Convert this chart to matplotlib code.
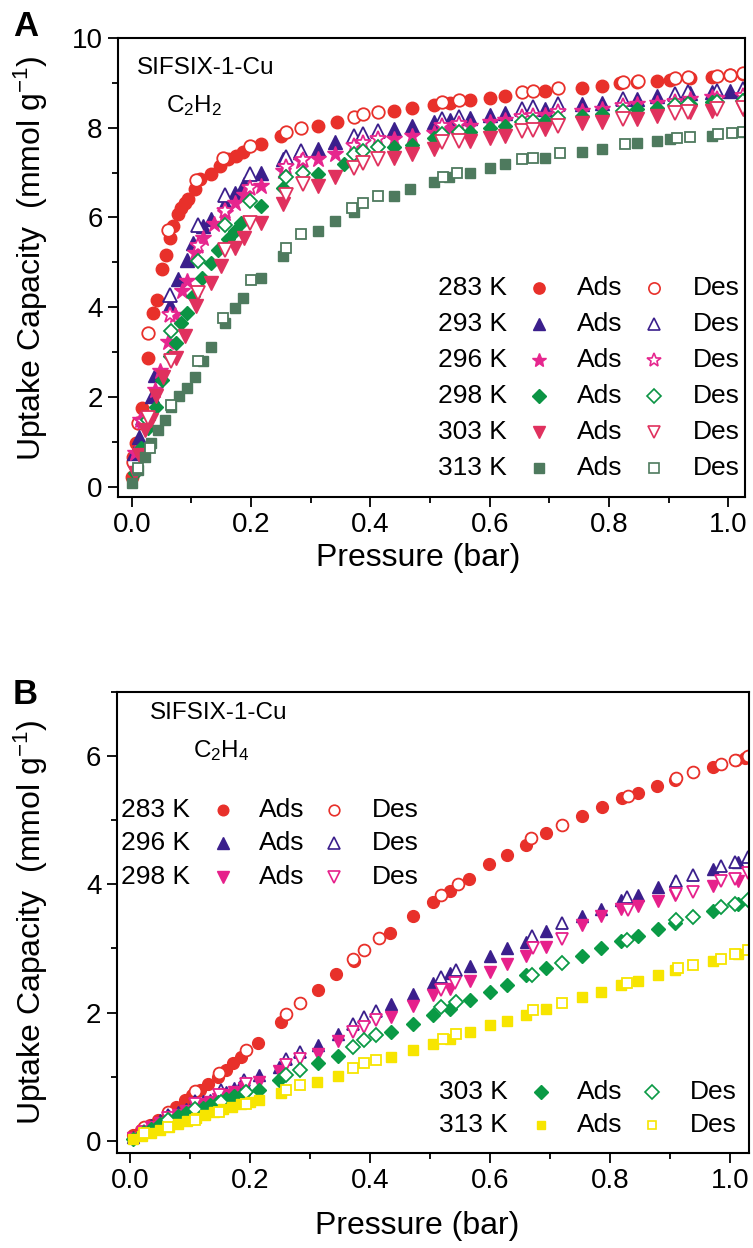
import matplotlib
matplotlib.use('Agg')
import matplotlib.pyplot as plt
from matplotlib.ticker import MultipleLocator

plt.rcParams['font.family'] = ['Liberation Sans', 'DejaVu Sans']
plt.rcParams['mathtext.default'] = 'regular'

# ---------------- panel A : C2H2 ----------------
a283_ads_p = [0.0, 0.002, 0.008, 0.017, 0.028, 0.036, 0.042, 0.05, 0.058, 0.064, 0.069, 0.078, 0.083, 0.089, 0.094,
              0.106, 0.114, 0.133, 0.148, 0.161, 0.175, 0.187, 0.217, 0.251, 0.312, 0.344, 0.439, 0.469, 0.506,
              0.534, 0.567, 0.601, 0.626, 0.693, 0.754, 0.788, 0.819, 0.847, 0.88, 0.902, 0.936, 0.972, 1.003, 1.025]
a283_ads_u = [0.22, 0.67, 0.97, 1.75, 2.87, 3.88, 4.16, 4.84, 5.17, 5.55, 5.81, 6.07, 6.22, 6.33, 6.40,
              6.63, 6.85, 6.96, 7.15, 7.30, 7.37, 7.45, 7.63, 7.82, 8.04, 8.13, 8.38, 8.43, 8.50,
              8.56, 8.61, 8.67, 8.71, 8.81, 8.88, 8.93, 8.99, 9.01, 9.04, 9.07, 9.10, 9.14, 9.17, 9.19]
a283_des_p = [0.002, 0.011, 0.028, 0.061, 0.108, 0.153, 0.198, 0.259, 0.284, 0.372, 0.388, 0.413, 0.52, 0.548,
              0.654, 0.673, 0.715, 0.824, 0.849, 0.911, 0.933, 0.981, 1.003, 1.025]
a283_des_u = [0.55, 1.42, 3.43, 5.73, 6.83, 7.32, 7.59, 7.91, 8.00, 8.23, 8.30, 8.35, 8.58, 8.61,
              8.79, 8.81, 8.88, 9.01, 9.03, 9.10, 9.12, 9.16, 9.18, 9.21]

a293_ads_p = [0.003, 0.012, 0.02, 0.034, 0.039, 0.064, 0.078, 0.092, 0.103, 0.12, 0.133, 0.156, 0.173, 0.189,
              0.217, 0.254, 0.282, 0.312, 0.341, 0.439, 0.469, 0.506, 0.534, 0.567, 0.601, 0.626, 0.693, 0.754,
              0.788, 0.847, 0.88, 0.936, 0.972, 1.003, 1.025]
a293_ads_u = [0.75, 1.10, 1.50, 2.01, 2.49, 4.04, 4.62, 5.06, 5.43, 5.81, 5.96, 6.33, 6.55, 6.74,
              7.00, 7.30, 7.45, 7.52, 7.67, 7.97, 8.03, 8.12, 8.17, 8.21, 8.28, 8.32, 8.41, 8.52,
              8.56, 8.65, 8.70, 8.77, 8.80, 8.82, 8.86]
a293_des_p = [0.019, 0.064, 0.111, 0.156, 0.198, 0.259, 0.284, 0.372, 0.388, 0.413, 0.52, 0.548, 0.654, 0.673,
              0.715, 0.824, 0.911, 0.933, 0.981, 1.025]
a293_des_u = [1.54, 4.26, 5.84, 6.51, 6.96, 7.35, 7.48, 7.82, 7.87, 7.93, 8.19, 8.24, 8.41, 8.45,
              8.52, 8.64, 8.76, 8.79, 8.82, 8.86]

a296_ads_p = [0.006, 0.014, 0.039, 0.047, 0.061, 0.073, 0.084, 0.092, 0.106, 0.12, 0.138, 0.156, 0.173, 0.189,
              0.217, 0.254, 0.284, 0.312, 0.341, 0.439, 0.469, 0.506, 0.534, 0.567, 0.601, 0.626, 0.693, 0.754,
              0.788, 0.847, 0.88, 0.936, 0.972, 1.025]
a296_ads_u = [0.74, 1.49, 2.16, 2.58, 3.22, 3.83, 4.35, 4.58, 5.20, 5.55, 5.85, 6.10, 6.33, 6.50,
              6.70, 7.03, 7.26, 7.30, 7.41, 7.74, 7.82, 7.89, 7.98, 8.03, 8.12, 8.17, 8.28, 8.38,
              8.41, 8.52, 8.56, 8.64, 8.68, 8.71]
a296_des_p = [0.019, 0.064, 0.111, 0.156, 0.198, 0.259, 0.287, 0.372, 0.388, 0.413, 0.52, 0.548, 0.654, 0.673,
              0.715, 0.824, 0.911, 0.981, 1.025]
a296_des_u = [1.45, 3.83, 5.36, 6.14, 6.66, 7.13, 7.28, 7.59, 7.65, 7.74, 8.03, 8.08, 8.23, 8.26,
              8.35, 8.49, 8.58, 8.65, 8.70]

a298_ads_p = [0.005, 0.015, 0.028, 0.041, 0.05, 0.064, 0.075, 0.083, 0.092, 0.103, 0.117, 0.133, 0.145, 0.161,
              0.173, 0.184, 0.217, 0.254, 0.312, 0.355, 0.439, 0.469, 0.506, 0.567, 0.601, 0.626, 0.693, 0.754,
              0.788, 0.847, 0.88, 0.936, 0.972, 1.025]
a298_ads_u = [0.30, 0.85, 1.30, 1.78, 2.38, 2.92, 3.20, 3.65, 3.87, 4.24, 4.65, 4.99, 5.28, 5.51,
              5.69, 5.88, 6.25, 6.66, 6.96, 7.18, 7.56, 7.61, 7.76, 7.91, 8.00, 8.03, 8.15, 8.25,
              8.30, 8.41, 8.44, 8.52, 8.58, 8.61]
a298_des_p = [0.027, 0.066, 0.111, 0.156, 0.198, 0.259, 0.287, 0.372, 0.388, 0.413, 0.52, 0.548, 0.654, 0.673,
              0.715, 0.824, 0.911, 0.933, 0.981, 1.025]
a298_des_u = [1.49, 3.46, 5.02, 5.84, 6.36, 6.89, 7.00, 7.41, 7.48, 7.56, 7.85, 7.91, 8.12, 8.15,
              8.21, 8.38, 8.50, 8.52, 8.58, 8.60]

a303_ads_p = [0.005, 0.012, 0.022, 0.033, 0.041, 0.052, 0.075, 0.089, 0.108, 0.133, 0.15, 0.173, 0.189, 0.217,
              0.254, 0.312, 0.341, 0.439, 0.469, 0.506, 0.567, 0.601, 0.626, 0.693, 0.754, 0.788, 0.847, 0.88,
              0.936, 0.972, 1.025]
a303_ads_u = [0.30, 0.70, 1.26, 1.49, 2.01, 2.45, 2.86, 3.35, 4.02, 4.54, 4.91, 5.32, 5.55, 5.88,
              6.29, 6.70, 6.89, 7.33, 7.42, 7.52, 7.71, 7.77, 7.82, 7.98, 8.10, 8.12, 8.19, 8.26,
              8.34, 8.38, 8.41]
a303_des_p = [0.027, 0.066, 0.111, 0.156, 0.198, 0.259, 0.287, 0.372, 0.388, 0.413, 0.52, 0.548, 0.654, 0.673,
              0.715, 0.824, 0.911, 0.933, 0.981, 1.025]
a303_des_u = [1.52, 2.79, 4.32, 5.28, 5.88, 6.51, 6.74, 7.11, 7.21, 7.30, 7.67, 7.71, 7.93, 7.95,
              8.04, 8.19, 8.32, 8.34, 8.41, 8.44]

a313_ads_p = [0.0, 0.011, 0.022, 0.033, 0.044, 0.055, 0.066, 0.08, 0.092, 0.106, 0.12, 0.133, 0.156, 0.173,
              0.187, 0.217, 0.254, 0.312, 0.341, 0.372, 0.439, 0.467, 0.506, 0.531, 0.567, 0.601, 0.626, 0.693,
              0.754, 0.788, 0.847, 0.88, 0.902, 0.972, 1.025]
a313_ads_u = [0.07, 0.37, 0.67, 0.97, 1.26, 1.49, 1.78, 2.01, 2.19, 2.45, 2.79, 3.12, 3.65, 3.98,
              4.21, 4.65, 5.13, 5.69, 5.92, 6.11, 6.48, 6.63, 6.79, 6.89, 7.00, 7.11, 7.18, 7.33,
              7.46, 7.53, 7.65, 7.71, 7.74, 7.82, 7.91]
a313_des_p = [0.011, 0.03, 0.066, 0.111, 0.153, 0.2, 0.259, 0.284, 0.369, 0.388, 0.413, 0.522, 0.545, 0.654,
              0.673, 0.718, 0.827, 0.914, 0.936, 0.983, 1.006, 1.025]
a313_des_u = [0.41, 0.85, 1.82, 2.79, 3.76, 4.61, 5.32, 5.62, 6.22, 6.33, 6.48, 6.91, 7.00, 7.30,
              7.33, 7.43, 7.63, 7.78, 7.80, 7.85, 7.89, 7.91]

# ---------------- panel B : C2H4 ----------------
b283_ads_p = [0.005, 0.019, 0.033, 0.047, 0.063, 0.077, 0.091, 0.104, 0.116, 0.13, 0.147, 0.16, 0.172, 0.186,
              0.213, 0.252, 0.313, 0.344, 0.374, 0.434, 0.472, 0.506, 0.533, 0.566, 0.599, 0.629, 0.661, 0.693,
              0.754, 0.787, 0.82, 0.847, 0.878, 0.908, 0.972, 1.011, 1.025]
b283_ads_u = [0.09, 0.17, 0.24, 0.32, 0.43, 0.53, 0.63, 0.72, 0.79, 0.89, 1.00, 1.10, 1.21, 1.30,
              1.53, 1.85, 2.36, 2.60, 2.81, 3.24, 3.50, 3.72, 3.89, 4.09, 4.31, 4.46, 4.62, 4.80,
              5.06, 5.20, 5.35, 5.43, 5.53, 5.63, 5.83, 5.94, 5.97]
b283_des_p = [0.024, 0.063, 0.108, 0.149, 0.194, 0.261, 0.283, 0.372, 0.391, 0.416, 0.518, 0.547, 0.669, 0.72,
              0.831, 0.911, 0.939, 0.986, 1.008, 1.03]
b283_des_u = [0.22, 0.45, 0.78, 1.06, 1.41, 1.98, 2.15, 2.83, 2.98, 3.17, 3.83, 4.01, 4.73, 4.92,
              5.38, 5.66, 5.75, 5.88, 5.94, 6.00]

b296_ads_p = [0.005, 0.02, 0.035, 0.05, 0.065, 0.08, 0.094, 0.11, 0.122, 0.133, 0.147, 0.16, 0.174, 0.19,
              0.216, 0.249, 0.313, 0.347, 0.436, 0.472, 0.506, 0.534, 0.567, 0.6, 0.628, 0.661, 0.694, 0.754,
              0.786, 0.819, 0.847, 0.88, 0.908, 0.972, 1.014]
b296_ads_u = [0.06, 0.15, 0.24, 0.32, 0.39, 0.45, 0.50, 0.58, 0.62, 0.64, 0.70, 0.76, 0.83, 0.90,
              1.02, 1.15, 1.49, 1.67, 2.13, 2.29, 2.46, 2.61, 2.73, 2.88, 3.00, 3.10, 3.28, 3.50,
              3.62, 3.75, 3.84, 3.96, 4.06, 4.24, 4.35]
b296_des_p = [0.024, 0.063, 0.108, 0.152, 0.191, 0.261, 0.283, 0.372, 0.391, 0.411, 0.519, 0.544, 0.671, 0.72,
              0.829, 0.911, 0.939, 0.986, 1.008, 1.03]
b296_des_u = [0.16, 0.40, 0.62, 0.80, 0.95, 1.27, 1.39, 1.82, 1.93, 2.03, 2.55, 2.67, 3.20, 3.39,
              3.80, 4.06, 4.15, 4.29, 4.35, 4.43]

b298_ads_p = [0.005, 0.02, 0.035, 0.05, 0.065, 0.08, 0.094, 0.11, 0.122, 0.133, 0.147, 0.16, 0.174, 0.19,
              0.216, 0.249, 0.313, 0.347, 0.436, 0.472, 0.506, 0.534, 0.567, 0.6, 0.628, 0.661, 0.694, 0.754,
              0.786, 0.819, 0.847, 0.88, 0.908, 0.972, 1.014]
b298_ads_u = [0.05, 0.13, 0.21, 0.28, 0.35, 0.41, 0.46, 0.52, 0.57, 0.61, 0.66, 0.71, 0.76, 0.82,
              0.91, 1.09, 1.36, 1.56, 1.93, 2.11, 2.28, 2.37, 2.49, 2.63, 2.76, 2.88, 3.02, 3.36,
              3.50, 3.62, 3.66, 3.74, 3.83, 3.98, 4.06]
b298_des_p = [0.024, 0.063, 0.108, 0.149, 0.194, 0.261, 0.283, 0.372, 0.391, 0.411, 0.518, 0.542, 0.672, 0.72,
              0.831, 0.911, 0.939, 0.986, 1.008, 1.03]
b298_des_u = [0.14, 0.36, 0.57, 0.71, 0.89, 1.18, 1.28, 1.70, 1.78, 1.88, 2.35, 2.46, 3.00, 3.15,
              3.60, 3.85, 3.88, 4.06, 4.09, 4.17]

b303_ads_p = [0.005, 0.02, 0.035, 0.05, 0.065, 0.08, 0.094, 0.11, 0.122, 0.133, 0.147, 0.16, 0.174, 0.19,
              0.216, 0.249, 0.313, 0.347, 0.436, 0.472, 0.506, 0.534, 0.567, 0.6, 0.628, 0.661, 0.694, 0.754,
              0.786, 0.819, 0.847, 0.88, 0.908, 0.972, 1.014]
b303_ads_u = [0.03, 0.11, 0.19, 0.26, 0.32, 0.38, 0.43, 0.48, 0.52, 0.56, 0.61, 0.66, 0.70, 0.74,
              0.80, 0.95, 1.21, 1.33, 1.70, 1.83, 1.97, 2.06, 2.19, 2.32, 2.43, 2.58, 2.69, 2.89,
              3.00, 3.12, 3.20, 3.31, 3.39, 3.59, 3.70]
b303_des_p = [0.024, 0.063, 0.108, 0.152, 0.194, 0.261, 0.283, 0.372, 0.391, 0.411, 0.519, 0.544, 0.671, 0.72,
              0.828, 0.911, 0.939, 0.986, 1.008, 1.03]
b303_des_u = [0.13, 0.32, 0.50, 0.61, 0.76, 1.02, 1.11, 1.46, 1.57, 1.65, 2.09, 2.17, 2.58, 2.77,
              3.14, 3.44, 3.49, 3.64, 3.70, 3.75]

b313_ads_p = [0.005, 0.02, 0.035, 0.05, 0.065, 0.08, 0.095, 0.11, 0.125, 0.14, 0.155, 0.17, 0.185, 0.2,
              0.216, 0.252, 0.312, 0.347, 0.436, 0.472, 0.505, 0.534, 0.567, 0.6, 0.628, 0.661, 0.694, 0.754,
              0.786, 0.819, 0.847, 0.88, 0.908, 0.972, 1.014]
b313_ads_u = [0.03, 0.08, 0.13, 0.17, 0.21, 0.26, 0.31, 0.35, 0.40, 0.45, 0.49, 0.53, 0.57, 0.60,
              0.63, 0.74, 0.92, 1.01, 1.30, 1.41, 1.51, 1.59, 1.70, 1.80, 1.87, 1.96, 2.06, 2.24,
              2.32, 2.43, 2.49, 2.58, 2.66, 2.81, 2.92]
b313_des_p = [0.024, 0.063, 0.108, 0.149, 0.194, 0.261, 0.283, 0.372, 0.391, 0.411, 0.522, 0.544, 0.672, 0.72,
              0.828, 0.914, 0.939, 0.986, 1.008, 1.03]
b313_des_u = [0.12, 0.22, 0.33, 0.45, 0.58, 0.80, 0.87, 1.13, 1.21, 1.26, 1.59, 1.66, 2.04, 2.15,
              2.46, 2.69, 2.74, 2.84, 2.91, 2.97]

# series: (temp label, colour, marker, size, ads p, ads u, des p, des u)
seriesA = [
    ('283 K', '#e8302a', 'o', 9.0, a283_ads_p, a283_ads_u, a283_des_p, a283_des_u),
    ('293 K', '#3b1f8c', '^', 9.5, a293_ads_p, a293_ads_u, a293_des_p, a293_des_u),
    ('296 K', '#e6268e', '*', 12.0, a296_ads_p, a296_ads_u, a296_des_p, a296_des_u),
    ('298 K', '#0b9444', 'D', 7.5, a298_ads_p, a298_ads_u, a298_des_p, a298_des_u),
    ('303 K', '#e0315e', 'v', 9.5, a303_ads_p, a303_ads_u, a303_des_p, a303_des_u),
    ('313 K', '#4e7a5e', 's', 7.5, a313_ads_p, a313_ads_u, a313_des_p, a313_des_u),
]
seriesB = [
    ('283 K', '#e8302a', 'o', 8.5, b283_ads_p, b283_ads_u, b283_des_p, b283_des_u),
    ('296 K', '#3b1f8c', '^', 9.0, b296_ads_p, b296_ads_u, b296_des_p, b296_des_u),
    ('298 K', '#e6208b', 'v', 9.0, b298_ads_p, b298_ads_u, b298_des_p, b298_des_u),
    ('303 K', '#0a9a45', 'D', 7.5, b303_ads_p, b303_ads_u, b303_des_p, b303_des_u),
    ('313 K', '#f7e500', 's', 7.0, b313_ads_p, b313_ads_u, b313_des_p, b313_des_u),
]

fig = plt.figure(figsize=(7.53, 12.48), dpi=100)
axA = fig.add_axes([0.1567, 0.6018, 0.8327, 0.3678])
axB = fig.add_axes([0.155, 0.0761, 0.8397, 0.3694])


def draw(ax, series):
    for name, col, mk, ms, ap, au, dp, du in series:
        ax.plot(ap, au, ls='none', marker=mk, ms=ms, color=col, mec=col)
        ax.plot(dp, du, ls='none', marker=mk, ms=ms, mfc='white', mec=col, mew=1.3)


def style(ax, ylim, ymajor):
    ax.set_ylim(*ylim)
    ax.xaxis.set_major_locator(MultipleLocator(0.2))
    ax.xaxis.set_minor_locator(MultipleLocator(0.1))
    ax.yaxis.set_major_locator(MultipleLocator(ymajor))
    ax.yaxis.set_minor_locator(MultipleLocator(1))
    ax.xaxis.set_major_formatter(matplotlib.ticker.FormatStrFormatter('%.1f'))
    ax.tick_params(which='major', direction='out', length=7, width=1.3, labelsize=20, pad=4,
                   top=False, right=False)
    ax.tick_params(which='minor', direction='out', length=4.5, width=1.3, top=False, right=False)
    for s in ax.spines.values():
        s.set_linewidth(1.5)
    ax.set_xlabel('Pressure (bar)', fontsize=23)
    ax.set_ylabel('Uptake Capacity  (mmol g$^{-1}$)', fontsize=23)


def legend_rows(ax, rows, ys, xt, xa, xat, xd, xdt):
    for (name, col, mk, ms), y in zip(rows, ys):
        ax.text(xt, y, name, transform=ax.transAxes, fontsize=19, ha='right', va='center')
        ax.plot([xa], [y], transform=ax.transAxes, ls='none', marker=mk, ms=ms * 0.9,
                color=col, clip_on=False)
        ax.text(xat, y, 'Ads', transform=ax.transAxes, fontsize=19, ha='left', va='center')
        ax.plot([xd], [y], transform=ax.transAxes, ls='none', marker=mk, ms=ms * 0.9,
                mfc='white', mec=col, mew=1.2, clip_on=False)
        ax.text(xdt, y, 'Des', transform=ax.transAxes, fontsize=19, ha='left', va='center')


draw(axA, seriesA)
style(axA, (-0.23, 10), 2)
axA.set_xlim(-0.023, 1.028)
axA.xaxis.set_label_coords(0.478, -0.1)
axA.yaxis.set_label_coords(-0.108, 0.52)
axA.text(0.03, 0.935, 'SIFSIX-1-Cu', transform=axA.transAxes, fontsize=17.5, ha='left', va='center')
axA.text(0.076, 0.852, 'C$_2$H$_2$', transform=axA.transAxes, fontsize=17.5, ha='left', va='center')
legend_rows(axA, [s[:4] for s in seriesA], [0.4553, 0.3769, 0.2985, 0.2200, 0.1416, 0.0632],
            0.620, 0.672, 0.7316, 0.855, 0.9175)

draw(axB, seriesB)
style(axB, (-0.19, 7), 2)
axB.set_xlim(-0.022, 1.032)
axB.xaxis.set_label_coords(0.476, -0.125)
axB.yaxis.set_label_coords(-0.105, 0.5)
axB.text(0.053, 0.954, 'SIFSIX-1-Cu', transform=axB.transAxes, fontsize=17.5, ha='left', va='center')
axB.text(0.121, 0.872, 'C$_2$H$_4$', transform=axB.transAxes, fontsize=17.5, ha='left', va='center')
legend_rows(axB, [s[:4] for s in seriesB[:3]], [0.744, 0.672, 0.599],
            0.116, 0.1676, 0.2255, 0.344, 0.403)
legend_rows(axB, [s[:4] for s in seriesB[3:]], [0.133, 0.0607],
            0.619, 0.6705, 0.7275, 0.846, 0.9067)

fig.text(26 / 753, 1 - 27 / 1248, 'A', fontsize=25, fontweight='bold', ha='center', va='center')
fig.text(25 / 753, 1 - 694 / 1248, 'B', fontsize=25, fontweight='bold', ha='center', va='center')

fig.savefig('out.png', dpi=100)
